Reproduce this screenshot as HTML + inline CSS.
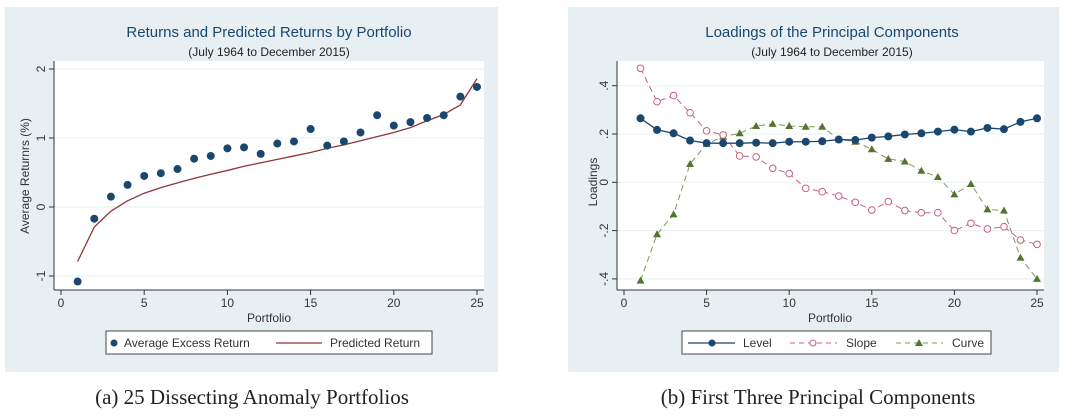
<!DOCTYPE html>
<html><head><meta charset="utf-8"><style>
html,body{margin:0;padding:0;background:#fff;width:1074px;height:417px;overflow:hidden;font-family:"Liberation Sans",sans-serif}
svg{position:absolute;left:0;top:0}
.cap{font-family:"Liberation Serif",serif;font-size:21px;fill:#222}
</style></head><body>
<svg id="s" width="1074" height="417" xmlns="http://www.w3.org/2000/svg">
<rect x="5" y="7" width="493" height="365" fill="#e8eff3"/>
<rect x="568" y="7" width="491" height="365" fill="#e8eff3"/>
<rect x="54" y="61" width="430" height="229" fill="#fff"/>
<rect x="617" y="61" width="427" height="229" fill="#fff"/>
<text x="269" y="37" text-anchor="middle" font-size="15" fill="#1a476f">Returns and Predicted Returns by Portfolio</text>
<text x="269" y="56" text-anchor="middle" font-size="12" fill="#222">(July 1964 to December 2015)</text>
<text x="832" y="37" text-anchor="middle" font-size="15" fill="#1a476f">Loadings of the Principal Components</text>
<text x="832" y="56" text-anchor="middle" font-size="12" fill="#222">(July 1964 to December 2015)</text>
<text x="269" y="322" text-anchor="middle" font-size="12" fill="#333">Portfolio</text>
<text x="830" y="322" text-anchor="middle" font-size="12" fill="#333">Portfolio</text>
<text transform="translate(29,176) rotate(-90)" text-anchor="middle" font-size="12" fill="#333">Average Returnrs (%)</text>
<text transform="translate(597,182) rotate(-90)" text-anchor="middle" font-size="12" fill="#333">Loadings</text>
<text class="cap" x="252" y="404" text-anchor="middle">(a) 25 Dissecting Anomaly Portfolios</text>
<text class="cap" x="818" y="404" text-anchor="middle">(b) First Three Principal Components</text>
<g id="L"></g><g id="R"></g>
<rect x="106" y="331" width="326" height="23" fill="#fff" stroke="#444"/>
<circle cx="114" cy="343" r="3.5" fill="#1a476f"/>
<text x="124" y="347" font-size="12" fill="#333">Average Excess Return</text>
<line x1="276" y1="343" x2="322" y2="343" stroke="#90353b" stroke-width="1.3"/>
<text x="330" y="347" font-size="12" fill="#333">Predicted Return</text>
<rect x="682" y="331" width="309" height="23" fill="#fff" stroke="#444"/>
<line x1="688" y1="343" x2="735" y2="343" stroke="#1a476f" stroke-width="1.3"/>
<circle cx="712" cy="343" r="3.5" fill="#1a476f"/>
<text x="743" y="347" font-size="12" fill="#333">Level</text>
<line x1="790" y1="343" x2="837" y2="343" stroke="#c8607a" stroke-width="1" stroke-dasharray="5,4"/>
<circle cx="813" cy="343" r="3" fill="#fff" stroke="#c8607a"/>
<text x="846" y="347" font-size="12" fill="#333">Slope</text>
<line x1="896" y1="343" x2="943" y2="343" stroke="#7a9a5a" stroke-width="1" stroke-dasharray="5,4"/>
<path d="M919,339 L923,346 L915,346Z" fill="#55752f"/>
<text x="952" y="347" font-size="12" fill="#333">Curve</text>
</svg>
<script>
const portfolios=[1,2,3,4,5,6,7,8,9,10,11,12,13,14,15,16,17,18,19,20,21,22,23,24,25];
const avgExcess=[-1.08,-0.17,0.15,0.32,0.45,0.49,0.55,0.70,0.74,0.85,0.865,0.77,0.92,0.95,1.13,0.89,0.95,1.08,1.33,1.18,1.23,1.29,1.33,1.60,1.74];
const predicted=[-0.79,-0.29,-0.06,0.09,0.20,0.28,0.35,0.415,0.475,0.53,0.59,0.64,0.69,0.74,0.79,0.85,0.90,0.96,1.02,1.08,1.15,1.25,1.34,1.48,1.86];
const leftYTicks=[-1,0,1,2];
const leftYLabels=["-1","0","1","2"];
const xTicks=[0,5,10,15,20,25];
const level=[0.265,0.217,0.203,0.173,0.162,0.162,0.162,0.164,0.162,0.168,0.168,0.170,0.177,0.175,0.185,0.19,0.198,0.203,0.21,0.218,0.21,0.225,0.22,0.25,0.265];
const slope=[0.472,0.334,0.359,0.288,0.213,0.196,0.109,0.105,0.058,0.036,-0.025,-0.039,-0.057,-0.083,-0.115,-0.08,-0.117,-0.126,-0.126,-0.2,-0.17,-0.193,-0.184,-0.239,-0.257];
const curve=[-0.407,-0.215,-0.133,0.076,0.159,0.189,0.203,0.233,0.242,0.233,0.23,0.23,0.178,0.168,0.137,0.097,0.086,0.048,0.022,-0.05,-0.007,-0.112,-0.117,-0.312,-0.4];
const rightYTicks=[-0.4,-0.2,0,0.2,0.4];
const rightYLabels=["-.4","-.2","0",".2",".4"];
const NS="http://www.w3.org/2000/svg";
function mk(p,t,a){const e=document.createElementNS(NS,t);for(const k in a)e.setAttribute(k,a[k]);p.appendChild(e);return e;}
function lx(v){return 61+v*(477-61)/25;}
function ly(v){return 207-v*69;}
function rx(v){return 624+v*(1037-624)/25;}
function ry(v){return 182.3-v*241.5;}
function axes(g,x,y,yt,yl,x0,x1,y0,y1,side){
  yt.forEach((t,i)=>{
    const gl=mk(g,'line',{x1:x0,x2:x1,y1:y(t),y2:y(t),stroke:'#eaf2f3','stroke-width':1.2});
    
    
    const tk=mk(g,'line',{x1:x0-5,x2:x0,y1:y(t),y2:y(t),stroke:'#333'});
    
    
    const tx=mk(g,'text',{transform:`translate(${x0-9},${y(t)}) rotate(-90)`,'text-anchor':'middle','font-size':12,fill:'#333'});
    tx.textContent=yl[i];
    
    
  });
  xTicks.forEach(t=>{
    const tk=mk(g,'line',{x1:x(t),x2:x(t),y1:y1,y2:y1+5,stroke:'#333'});
    
    
    const tx=mk(g,'text',{x:x(t),y:y1+17,'text-anchor':'middle','font-size':12,fill:'#333'});
    tx.textContent=t;
    
    
  });
  const a1=mk(g,'line',{x1:x0,x2:x0,y1:y0,y2:y1,stroke:'#333'});
  
  
  const a2=mk(g,'line',{x1:x0,x2:x1,y1:y1,y2:y1,stroke:'#333'});
  
  
}
const L=document.getElementById('L'),R=document.getElementById('R');
axes(L,lx,ly,leftYTicks,leftYLabels,54,484,61,290,'left');
axes(R,rx,ry,rightYTicks,rightYLabels,617,1044,61,290,'right');
function pts(x,y,arr){return portfolios.map((p,i)=>x(p)+','+y(arr[i])).join(' ');}
const pl=mk(L,'polyline',{points:pts(lx,ly,predicted),fill:'none',stroke:'#90353b','stroke-width':1.3});


portfolios.forEach((p,i)=>{
  const c=mk(L,'circle',{cx:lx(p),cy:ly(avgExcess[i]),r:4,fill:'#1a476f'});
  
  
});
const cl=mk(R,'polyline',{points:pts(rx,ry,curve),fill:'none',stroke:'#7a9a5a','stroke-width':1,'stroke-dasharray':'6,4'});


const sl=mk(R,'polyline',{points:pts(rx,ry,slope),fill:'none',stroke:'#c8607a','stroke-width':1,'stroke-dasharray':'6,4'});


const lv=mk(R,'polyline',{points:pts(rx,ry,level),fill:'none',stroke:'#1a476f','stroke-width':1.3});


portfolios.forEach((p,i)=>{
  const x=rx(p),y=ry(curve[i]);
  const t=mk(R,'path',{d:`M${x},${y-4}L${x+4},${y+3}L${x-4},${y+3}Z`,fill:'#55752f'});
  
  
  const s=mk(R,'circle',{cx:x,cy:ry(slope[i]),r:3.3,fill:'#fff',stroke:'#c8607a','stroke-width':1});
  
  
  const l=mk(R,'circle',{cx:x,cy:ry(level[i]),r:4,fill:'#1a476f'});
  
  
});
</script>
</body></html>
